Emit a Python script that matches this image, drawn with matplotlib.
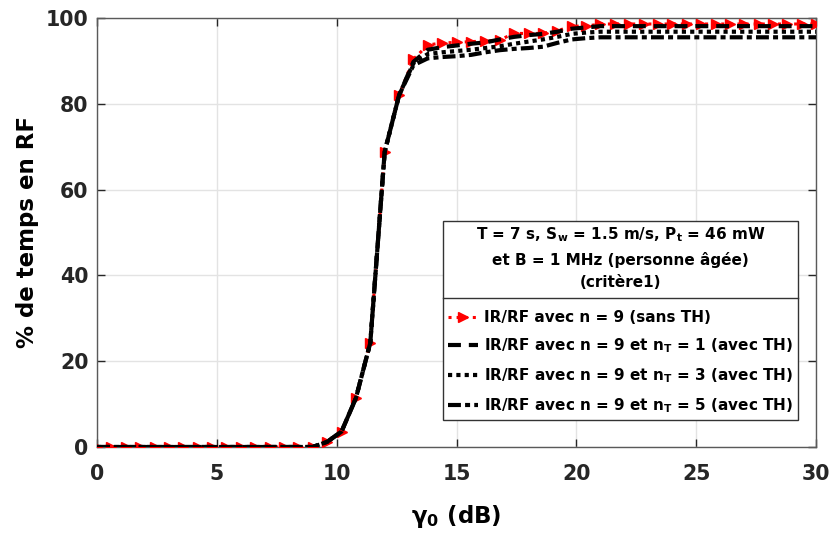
import numpy as np
import matplotlib
matplotlib.use("Agg")
import matplotlib.pyplot as plt
from matplotlib.lines import Line2D

plt.rcParams['font.family'] = ['DejaVu Sans']
plt.rcParams['font.weight'] = 'bold'
plt.rcParams['mathtext.fontset'] = 'dejavusans'
plt.rcParams['mathtext.default'] = 'bf'

gamma0 = [round(0.6 * i, 1) for i in range(51)]

low = [0.0] * 16  # 0 .. 9.0
rise = [1.2, 3.6, 11.4, 24.3, 68.8, 82.0]  # 9.6 .. 12.6

sans_th = low + rise + [90.4, 93.7, 94.2, 94.3, 94.5, 94.6, 94.9, 96.4, 96.4, 96.4,
                        97.0, 98.1, 98.1, 98.6] + [98.6] * 15
avec_nt1 = low + rise + [89.8, 92.6, 93.2, 93.6, 94.0, 94.3, 95.0, 95.6, 96.0, 96.3,
                         96.8, 97.5, 97.8, 98.1] + [98.1] * 15
avec_nt3 = low + rise + [89.5, 91.6, 92.0, 92.3, 92.6, 93.0, 93.4, 94.0, 94.5, 95.0,
                         95.6, 96.3, 96.6, 96.8] + [96.8] * 15
avec_nt5 = low + rise + [89.0, 90.6, 90.9, 91.1, 91.4, 92.0, 92.5, 92.8, 93.0, 93.3,
                         94.2, 95.0, 95.3, 95.5] + [95.5] * 15

labels = ['IR/RF avec n = 9 (sans TH)',
          'IR/RF avec n = 9 et n$_T$ = 1 (avec TH)',
          'IR/RF avec n = 9 et n$_T$ = 3 (avec TH)',
          'IR/RF avec n = 9 et n$_T$ = 5 (avec TH)']
legend_title = ('T = 7 s, S$_w$ = 1.5 m/s, P$_t$ = 46 mW\n'
                'et B = 1 MHz (personne âgée)\n(critère1)')
xticks = [0, 5, 10, 15, 20, 25, 30]
yticks = [0, 20, 40, 60, 80, 100]

fig = plt.figure(figsize=(8.32, 5.37), dpi=100)
ax = fig.add_axes([0.1166, 0.1676, 0.981 - 0.1166, 0.9665 - 0.1676])

l0, = ax.plot(gamma0, sans_th, color='red', linestyle=':', linewidth=2.2,
              marker='>', markersize=6.5, label=labels[0], zorder=3)
l1, = ax.plot(gamma0, avec_nt1, color='black', linestyle=(0, (3.1, 1.9)), linewidth=3,
              label=labels[1], zorder=4)
l2, = ax.plot(gamma0, avec_nt3, color='black', linestyle=(0, (1, 1)), linewidth=3,
              label=labels[2], zorder=4)
l3, = ax.plot(gamma0, avec_nt5, color='black', linestyle=(0, (3.1, 1, 1.2, 1)), linewidth=3,
              label=labels[3], zorder=4)

ax.set_xlim(0, 30)
ax.set_ylim(0, 100)
ax.set_xticks(xticks)
ax.set_yticks(yticks)
ax.grid(True, color='#e3e3e3', linewidth=1)
ax.set_axisbelow(True)
tc = '#262626'
ax.tick_params(direction='in', top=True, right=True, length=6, width=1, colors=tc,
               labelsize=14.8)
ax.tick_params(axis='x', pad=12)
ax.tick_params(axis='y', pad=6)
for lab in ax.get_xticklabels() + ax.get_yticklabels():
    lab.set_fontweight('bold')
for s in ax.spines.values():
    s.set_color('#5a5a5a')
    s.set_linewidth(1)

ax.set_xlabel(r'$\gamma_0$ (dB)', fontsize=16.5, fontweight='bold', color='black', labelpad=14)
ax.set_ylabel('% de temps en RF', fontsize=16.5, fontweight='bold', color='black', labelpad=5)

leg = ax.legend(handles=[l0, l1, l2, l3], loc='lower right',
                bbox_to_anchor=(0.975, 0.063), title=legend_title,
                fontsize=11, title_fontsize=11, frameon=True, fancybox=False,
                edgecolor='#333333', framealpha=1, handlelength=2.0,
                handletextpad=0.4, borderpad=0.3, labelspacing=0.75,
                borderaxespad=0, numpoints=1)
leg.get_frame().set_linewidth(1)
leg.get_title().set_fontweight('bold')
leg.get_title().set_multialignment('center')
leg.get_title().set_linespacing(1.6)
leg._legend_box.sep = 14
leg.set_zorder(10)

fig.canvas.draw()
tb = leg.get_title().get_window_extent()
hb = leg._legend_handle_box.get_window_extent(fig.canvas.get_renderer())
fb = leg.get_frame().get_window_extent()
inv = fig.transFigure.inverted()
ysep = 0.5 * (tb.y0 + hb.y1) + 2
(x0, y0) = inv.transform((fb.x0, ysep))
(x1, _) = inv.transform((fb.x1, ysep))
fig.add_artist(Line2D([x0, x1], [y0, y0], transform=fig.transFigure,
                      color='#333333', linewidth=1, zorder=11))

fig.savefig('out.png', dpi=100)
